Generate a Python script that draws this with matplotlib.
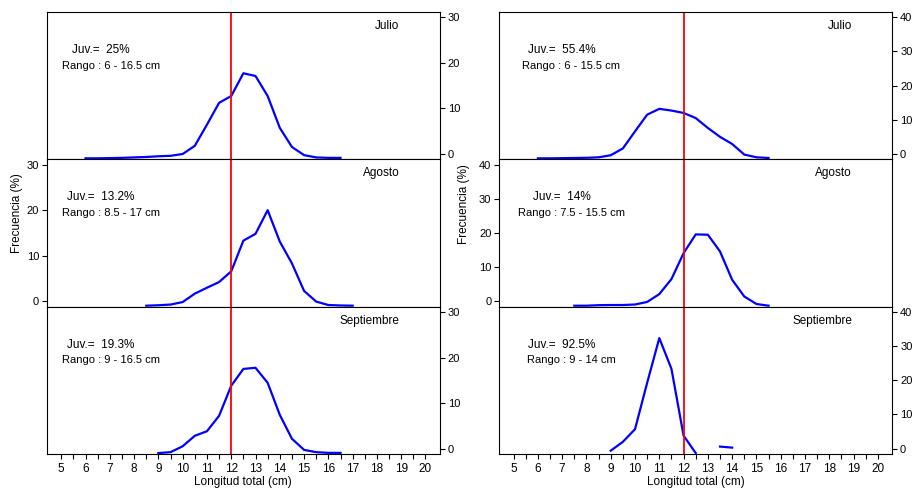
import numpy as np
import matplotlib
matplotlib.use('Agg')
import matplotlib.pyplot as plt

plt.rcParams['font.family'] = ['Liberation Sans', 'DejaVu Sans']

# length classes (cm) and frequencies (%) per month, left and right columns
meses = ['Julio', 'Agosto', 'Septiembre']

x_izq_jul = [6, 6.5, 7, 7.5, 8, 8.5, 9, 9.5, 10, 10.5, 11, 11.5, 12, 12.5, 13, 13.5, 14, 14.5, 15, 15.5, 16, 16.5]
y_izq_jul = [0.0, 0.0, 0.05, 0.1, 0.2, 0.3, 0.45, 0.55, 0.95, 2.75, 7.4, 12.2, 13.7, 18.7, 18.1, 13.7, 6.7, 2.5, 0.7, 0.2, 0.1, 0.1]

x_izq_ago = [8.5, 9, 9.5, 10, 10.5, 11, 11.5, 12, 12.5, 13, 13.5, 14, 14.5, 15, 15.5, 16, 16.5, 17]
y_izq_ago = [0.0, 0.1, 0.25, 0.8, 2.65, 3.95, 5.2, 7.55, 14.3, 15.8, 21.0, 14.1, 9.3, 3.25, 0.9, 0.15, 0.05, 0.0]

x_izq_sep = [9, 9.5, 10, 10.5, 11, 11.5, 12, 12.5, 13, 13.5, 14, 14.5, 15, 15.5, 16, 16.5]
y_izq_sep = [0.0, 0.2, 1.5, 3.8, 4.8, 8.2, 14.8, 18.5, 18.75, 15.45, 8.4, 3.15, 0.7, 0.2, 0.05, 0.05]

x_der_jul = [6, 6.5, 7, 7.5, 8, 8.5, 9, 9.5, 10, 10.5, 11, 11.5, 12, 12.5, 13, 13.5, 14, 14.5, 15, 15.5]
y_der_jul = [0.0, 0.0, 0.05, 0.1, 0.15, 0.3, 0.9, 2.9, 7.9, 12.8, 14.5, 14.0, 13.3, 11.8, 8.9, 6.3, 4.2, 1.1, 0.3, 0.1]

x_der_ago = [7.5, 8, 8.5, 9, 9.5, 10, 10.5, 11, 11.5, 12, 12.5, 13, 13.5, 14, 14.5, 15, 15.5]
y_der_ago = [0.0, 0.0, 0.15, 0.2, 0.2, 0.35, 1.1, 3.4, 7.8, 15.4, 20.9, 20.8, 15.9, 7.6, 2.7, 0.5, 0.0]

x_der_sep = [9, 9.5, 10, 10.5, 11, 11.5, 12, 12.5, 13, 13.5, 14]
y_der_sep = [0.7, 3.3, 7.0, 20.6, 33.7, 24.7, 5.1, 0.0, np.nan, 1.9, 1.6]

juv_izq = ['25%', '13.2%', '19.3%']
rango_izq = ['6 - 16.5', '8.5 - 17', '9 - 16.5']
juv_der = ['55.4%', '14%', '92.5%']
rango_der = ['6 - 15.5', '7.5 - 15.5', '9 - 14']

talla_juv = 12
xticks_lab = [5, 6, 7, 8, 9, 10, 11, 12, 13, 14, 15, 16, 17, 18, 19, 20]

columnas = [
    dict(x0=0.0509, series=[(x_izq_jul, y_izq_jul), (x_izq_ago, y_izq_ago), (x_izq_sep, y_izq_sep)],
         juv=juv_izq, rango=rango_izq, ymax=30, juv_x=0.138, rango_x=0.163),
    dict(x0=0.5442, series=[(x_der_jul, y_der_jul), (x_der_ago, y_der_ago), (x_der_sep, y_der_sep)],
         juv=juv_der, rango=rango_der, ymax=40, juv_x=0.16, rango_x=0.183),
]

fig = plt.figure(figsize=(9.17, 4.88), dpi=100)
w, h = 0.429, 0.302
y0s = [0.6737, 0.3717, 0.0697]
fs = 8

for col in columnas:
    ymax = col['ymax']
    pad = 0.04 * ymax
    for r in range(3):
        xs, ys = col['series'][r]
        ax = fig.add_axes([col['x0'], y0s[r], w, h])
        ax.plot(xs, ys, color='#0000ff', lw=1.6)
        ax.axvline(talla_juv, color='#ff0000', lw=1.3)
        ax.set_xlim(4.4, 20.6)
        # data baseline sits at the bottom of the panel, ticks are offset (as in original)
        ax.set_ylim(-0.2 * ymax / 30, ymax + 2 * pad - 0.2 * ymax / 30)
        ax.set_yticks([])
        for s in ax.spines.values():
            s.set_linewidth(0.8)
            s.set_color('black')

        if r == 2:
            ticks = np.arange(5, 20.01, 0.5)
            labs = [str(int(t)) if t == int(t) else '' for t in ticks]
            ax.set_xticks(ticks)
            ax.set_xticklabels(labs)
            ax.tick_params(axis='x', direction='out', length=3.5, width=0.8, labelsize=fs + 0.5, pad=3)
            ax.set_xlabel('Longitud total (cm)', fontsize=fs + 0.5, labelpad=1)
        else:
            ax.set_xticks([])

        ty = ax.twinx()
        ty.set_ylim(-pad, ymax + pad)
        ty.set_yticks(list(range(0, ymax + 1, 10)))
        for s in ty.spines.values():
            s.set_visible(False)
        if r == 1:
            ty.yaxis.set_ticks_position('left')
        else:
            ty.yaxis.set_ticks_position('right')
        ty.tick_params(axis='y', direction='out', length=3.5, width=0.8, labelsize=fs, pad=2)

        ax.text(0.897, 0.905, meses[r], transform=ax.transAxes, ha='right', va='center', fontsize=fs + 0.5)
        ax.text(col['juv_x'], 0.742, 'Juv.=  ' + col['juv'][r], transform=ax.transAxes,
                ha='center', va='center', fontsize=fs + 0.5)
        ax.text(col['rango_x'], 0.636, 'Rango : ' + col['rango'][r] + ' cm', transform=ax.transAxes,
                ha='center', va='center', fontsize=fs)

fig.text(17 / 917, 1 - 213 / 488, 'Frecuencia (%)', rotation=90, ha='center', va='center', fontsize=fs + 0.5)
fig.text(464 / 917, 1 - 204 / 488, 'Frecuencia (%)', rotation=90, ha='center', va='center', fontsize=fs + 0.5)

fig.savefig('out.png', dpi=100, facecolor='white')
